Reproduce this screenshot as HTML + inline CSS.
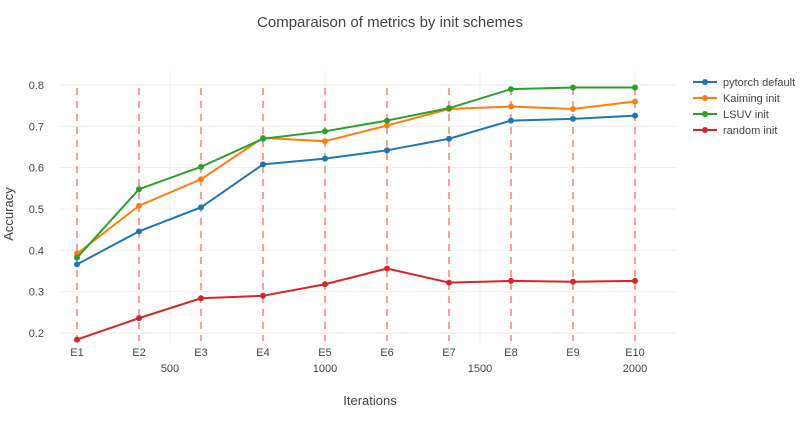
<!DOCTYPE html>
<html><head><meta charset="utf-8"><style>
body{margin:0;background:#fff;font-family:"Liberation Sans",sans-serif}
svg text{font-family:"Liberation Sans",sans-serif;fill:#444}
</style></head><body>
<svg id="chart" width="800" height="420" viewBox="0 0 800 420">
<text x="390" y="27" text-anchor="middle" font-size="15">Comparaison of metrics by init schemes</text>
<g id="grid"></g><g id="axes"></g><g id="series"></g><g id="legend"></g>
<text x="370" y="405" text-anchor="middle" font-size="13">Iterations</text>
<text transform="translate(13,214) rotate(-90)" text-anchor="middle" font-size="13">Accuracy</text>
</svg>
<script>
const categories=["E1","E2","E3","E4","E5","E6","E7","E8","E9","E10"];
const iterations=[200,400,600,800,1000,1200,1400,1600,1800,2000];
const pytorchDefault=[0.366,0.446,0.504,0.608,0.622,0.642,0.670,0.714,0.718,0.726];
const kaimingInit=[0.392,0.508,0.572,0.672,0.664,0.702,0.742,0.748,0.742,0.760];
const lsuvInit=[0.382,0.548,0.602,0.670,0.688,0.714,0.744,0.790,0.794,0.794];
const randomInit=[0.184,0.236,0.284,0.290,0.318,0.356,0.322,0.326,0.324,0.326];
const yTicks=[0.2,0.3,0.4,0.5,0.6,0.7,0.8];
const xTicks=[500,1000,1500,2000];
const seriesNames=["pytorch default","Kaiming init","LSUV init","random init"];
const seriesColors=["#1f77b4","#ff7f0e","#2ca02c","#d62728"];
const seriesData=[pytorchDefault,kaimingInit,lsuvInit,randomInit];
const NS="http://www.w3.org/2000/svg";
const X=v=>15+v*0.31;
const Y=v=>333-(v-0.2)*413.3;
function mk(tag,attrs,parent){const e=document.createElementNS(NS,tag);for(const k in attrs)e.setAttribute(k,attrs[k]);parent.appendChild(e);return e;}
const grid=document.getElementById('grid'),axes=document.getElementById('axes'),ser=document.getElementById('series'),leg=document.getElementById('legend');
yTicks.forEach(t=>{
 const l=mk('line',{x1:60,x2:676,y1:Y(t),y2:Y(t),stroke:'#eee','stroke-width':1},grid);
 
 
 const tx=mk('text',{x:44,y:Y(t)+4,'text-anchor':'end','font-size':11},axes);tx.textContent=t.toFixed(1);
 
 
});
xTicks.forEach(t=>{
 const l=mk('line',{x1:X(t),x2:X(t),y1:70,y2:345,stroke:'#eee','stroke-width':1},grid);
 
 
 const tx=mk('text',{x:X(t),y:372,'text-anchor':'middle','font-size':11},axes);tx.textContent=t;
 
 
});
iterations.forEach((it,i)=>{
 const l=mk('line',{x1:X(it),x2:X(it),y1:88,y2:341,stroke:'#f06060','stroke-width':1.2,'stroke-dasharray':'7,6'},grid);
 
 
 const tx=mk('text',{x:X(it),y:356,'text-anchor':'middle','font-size':11},axes);tx.textContent=categories[i];
 
 
});
seriesData.forEach((d,s)=>{
 const g=mk('g',{},ser);
 
 
 mk('polyline',{points:d.map((v,i)=>X(iterations[i])+','+Y(v)).join(' '),fill:'none',stroke:seriesColors[s],'stroke-width':2},g);
 d.forEach((v,i)=>{const c=mk('circle',{cx:X(iterations[i]),cy:Y(v),r:3,fill:seriesColors[s]},g);
  
  });
 const ly=82+s*16;
 const lg=mk('g',{},leg);
 
 
 mk('line',{x1:693,x2:717,y1:ly,y2:ly,stroke:seriesColors[s],'stroke-width':2},lg);
 mk('circle',{cx:705,cy:ly,r:3,fill:seriesColors[s]},lg);
 const t=mk('text',{x:723,y:ly+4,'font-size':11},lg);t.textContent=seriesNames[s];
});
</script>
</body></html>
